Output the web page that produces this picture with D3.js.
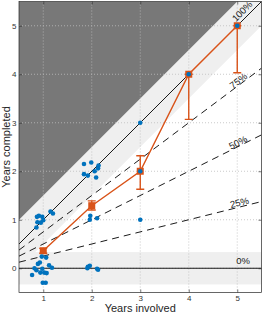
<!DOCTYPE html>
<html>
<head>
<meta charset="utf-8">
<script src="https://cdn.jsdelivr.net/npm/d3@7"></script>
<style>
  body { margin: 0; background: #fff; }
  text { font-family: "Liberation Sans", Arial, sans-serif; }
</style>
</head>
<body>
<div id="chart"></div>
<script>
// blue points (jittered)
const ptX = [0.87, 0.91, 0.98, 0.88, 0.95, 1.0, 0.86, 1.15, 1.2,
  0.97, 1.06, 0.93, 0.89, 1.12, 0.82, 0.86, 0.98, 1.18, 0.77, 0.94, 1.02, 1.07, 0.99, 1.05,
  1.84, 1.99, 2.14, 2.13, 2.06, 1.84, 1.92, 2.09, 1.97, 1.96, 2.11, 1.92, 1.96, 1.91, 2.11, 2.13,
  3, 3, 3, 4, 5]
const ptY = [1.06, 1.08, 1.06, 0.95, 0.94, 0.99, 0.84, 1.17, 1.13,
  0.24, 0.22, 0.12, 0.09, 0.06, 0.0, -0.04, -0.01, 0.01, -0.14, -0.09, -0.09, -0.1, -0.3, -0.3,
  2.15, 2.18, 2.12, 2.06, 2.0, 1.94, 1.91, 1.87, 1.08, 1.0, 1.03, 0.03, 0.05, 0.0, -0.01, -0.03,
  3, 2, 1, 4, 5]

// orange means with error bars
const years = [1, 2, 3, 4, 5]
const means = [0.36, 1.29, 2.0, 4.0, 5.0]
const lower = [0.31, 1.2, 1.63, 3.07, 4.03]
const upper = [0.41, 1.39, 2.32, 4.0, 5.0]

// reference lines
const ratios = [1, 0.75, 0.5, 0.25, 0]
const ratioLabels = ["100%", "75%", "50%", "25%", "0%"]
const tickVals = [0, 1, 2, 3, 4, 5]

// label placement (x along line, offset above line in px)
const labelX = [5.2, 5.07, 5.05, 5.065, 5.12]
const labelOff = [7, 4, 3.8, 4.6, 8]

let width = 263
let height = 314
let mLeft = 19, mRight = 261.5, mTop = 1.5, mBottom = 292.5

let svg = d3.select("#chart")
  .append("svg")
  .attr("width", width)
  .attr("height", height)

let x = d3.scaleLinear().domain([0.5, 5.5]).range([mLeft, mRight])
let y = d3.scaleLinear().domain([-0.5, 5.5]).range([mBottom, mTop])

svg.append("clipPath").attr("id", "clip")
  .append("rect")
  .attr("x", mLeft).attr("y", mTop)
  .attr("width", mRight - mLeft).attr("height", mBottom - mTop)

let plot = svg.append("g").attr("clip-path", "url(#clip)")

let line = d3.line().x(d => x(d[0])).y(d => y(d[1]))

// horizontal light band around 0
plot.append("rect")
  .attr("x", mLeft).attr("width", mRight - mLeft)
  .attr("y", y(1 / 3)).attr("height", y(-1 / 3) - y(1 / 3))
  .attr("fill", "#efefef")

// diagonal light band around 100%
plot.append("path")
  .attr("d", line([[0.5, 0], [0.5, 1], [5, 5.5], [5.5, 5.5], [5.5, 5], [0.5, 0]]) + "Z")
  .attr("fill", "#efefef")

// impossible region
plot.append("path")
  .attr("d", line([[0.5, 1], [0.5, 5.5], [5, 5.5]]) + "Z")
  .attr("fill", "#787878")

// dotted grid
plot.selectAll(".gx")
  .data(years)
  .enter()
  .append("line")
  .attr("x1", d => x(d)).attr("x2", d => x(d))
  .attr("y1", mTop).attr("y2", mBottom)
  .attr("stroke", "#bdbdbd")
  .attr("stroke-width", 0.8)
  .attr("stroke-dasharray", "1,2")

plot.selectAll(".gy")
  .data(tickVals)
  .enter()
  .append("line")
  .attr("y1", d => y(d)).attr("y2", d => y(d))
  .attr("x1", mLeft).attr("x2", mRight)
  .attr("stroke", "#bdbdbd")
  .attr("stroke-width", 0.8)
  .attr("stroke-dasharray", "1,2")

// reference lines
plot.selectAll(".ref")
  .data(ratios)
  .enter()
  .append("path")
  .attr("d", k => line([[0.5, 0.5 * k], [5.5, 5.5 * k]]))
  .attr("stroke", "#000")
  .attr("stroke-width", 0.9)
  .attr("fill", "none")
  .attr("stroke-dasharray", k => (k === 1 || k === 0) ? null : "7,5")

// their labels
ratios.forEach((k, i) => {
  let ang = Math.atan(k) * 180 / Math.PI
  let px = x(labelX[i]), py = y(labelX[i] * k)
  svg.append("text")
    .attr("transform", `translate(${px},${py}) rotate(${-ang})`)
    .attr("y", -labelOff[i])
    .attr("text-anchor", "middle")
    .attr("dominant-baseline", "central")
    .style("font-size", "9.5px")
    .attr("fill", "#1a1a1a")
    .text(ratioLabels[i])
})

// orange means
const orange = "#d95319"
plot.append("path")
  .attr("d", line(years.map((d, i) => [d, means[i]])))
  .attr("stroke", orange)
  .attr("stroke-width", 1.4)
  .attr("fill", "none")

let eb = plot.selectAll(".eb")
  .data(years)
  .enter()
  .append("g")
eb.append("line")
  .attr("x1", d => x(d)).attr("x2", d => x(d))
  .attr("y1", (d, i) => y(lower[i])).attr("y2", (d, i) => y(upper[i]))
  .attr("stroke", orange).attr("stroke-width", 1.4)
eb.append("line")
  .attr("x1", d => x(d) - 4).attr("x2", d => x(d) + 4)
  .attr("y1", (d, i) => y(lower[i])).attr("y2", (d, i) => y(lower[i]))
  .attr("stroke", orange).attr("stroke-width", 1.4)
eb.append("line")
  .attr("x1", d => x(d) - 4).attr("x2", d => x(d) + 4)
  .attr("y1", (d, i) => y(upper[i])).attr("y2", (d, i) => y(upper[i]))
  .attr("stroke", orange).attr("stroke-width", 1.4)
eb.append("rect")
  .attr("x", d => x(d) - 3.5).attr("y", (d, i) => y(means[i]) - 3.5)
  .attr("width", 7).attr("height", 7)
  .attr("fill", orange)

// blue points
plot.selectAll(".pt")
  .data(ptX)
  .enter()
  .append("circle")
  .attr("cx", d => x(d))
  .attr("cy", (d, i) => y(ptY[i]))
  .attr("r", 2.3)
  .attr("fill", "#0072bd")

// axes, inward ticks, box
svg.append("g")
  .attr("transform", `translate(0,${mBottom})`)
  .call(d3.axisBottom(x).tickValues(years).tickFormat(d3.format("d")).tickSizeInner(-3).tickSizeOuter(0).tickPadding(3))
svg.append("g")
  .attr("transform", `translate(${mLeft},0)`)
  .call(d3.axisLeft(y).tickValues(tickVals).tickFormat(d3.format("d")).tickSizeInner(-3).tickSizeOuter(0).tickPadding(2.5))
svg.append("g")
  .attr("transform", `translate(0,${mTop})`)
  .call(d3.axisTop(x).tickValues(years).tickFormat("").tickSizeInner(-3).tickSizeOuter(0))
svg.append("g")
  .attr("transform", `translate(${mRight},0)`)
  .call(d3.axisRight(y).tickValues(tickVals).tickFormat("").tickSizeInner(-3).tickSizeOuter(0))

svg.selectAll(".domain").remove()
svg.selectAll(".tick line").attr("stroke", "#262626").attr("stroke-width", 0.6)
svg.selectAll(".tick text").style("font-size", "8px").attr("fill", "#333")

svg.append("rect")
  .attr("x", mLeft).attr("y", mTop)
  .attr("width", mRight - mLeft).attr("height", mBottom - mTop)
  .attr("fill", "none")
  .attr("stroke", "#262626")
  .attr("stroke-width", 0.7)

// axis titles
svg.append("text")
  .attr("x", (mLeft + mRight) / 2)
  .attr("y", 312)
  .attr("text-anchor", "middle")
  .style("font-size", "11px")
  .attr("fill", "#262626")
  .text("Years involved")

svg.append("text")
  .attr("transform", `translate(9.5,${(mTop + mBottom) / 2}) rotate(-90)`)
  .attr("text-anchor", "middle")
  .style("font-size", "11px")
  .attr("fill", "#262626")
  .text("Years completed")
</script>
</body>
</html>
